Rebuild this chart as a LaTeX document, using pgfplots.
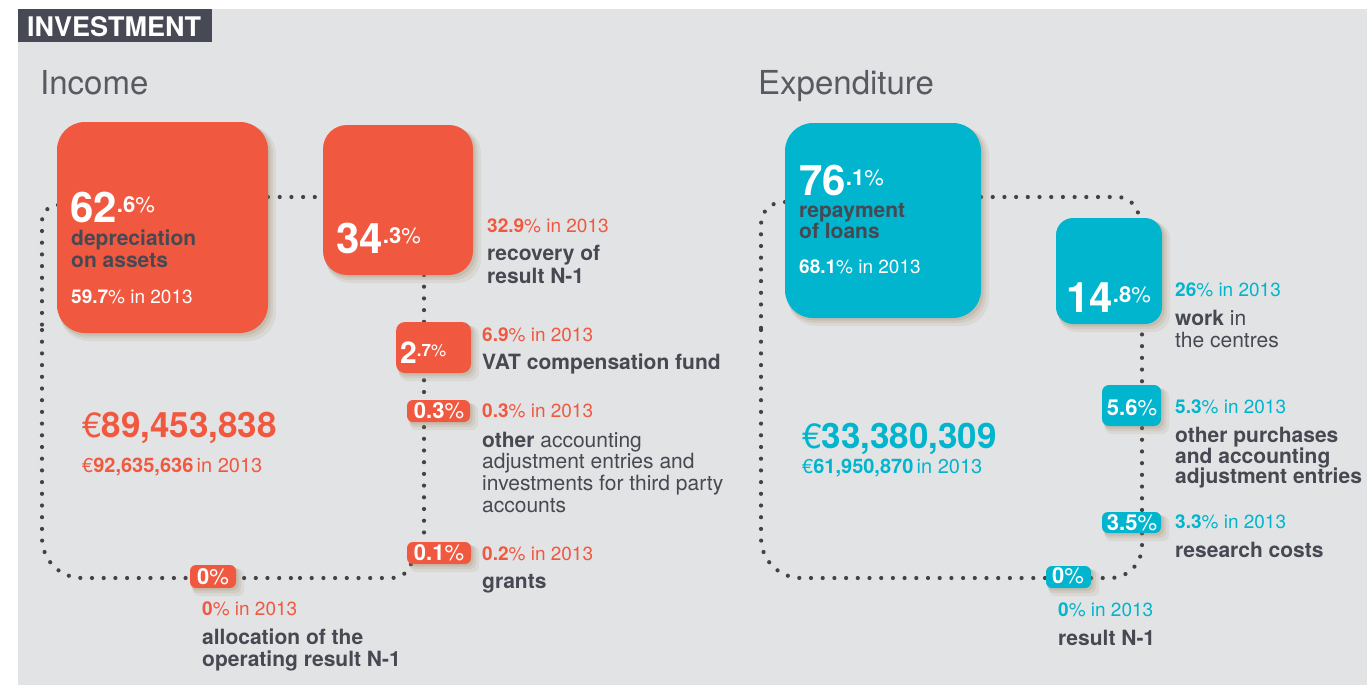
\documentclass[border=0pt]{standalone}
\usepackage{pgfplots}
\pgfplotsset{compat=1.18}
\usepackage{fontspec}
\setmainfont{TeX Gyre Heros}
\definecolor{bg}{RGB}{226,227,228}
\definecolor{tabc}{RGB}{71,74,84}
\definecolor{org}{RGB}{240,89,64}
\definecolor{tealc}{RGB}{0,181,205}
\definecolor{txt}{RGB}{70,72,82}
\definecolor{txtl}{RGB}{88,90,98}
\definecolor{dotc}{RGB}{70,66,66}
\definecolor{shad}{RGB}{150,128,90}
\newcommand{\fs}[1]{\fontsize{#1}{#1}\selectfont}
\newcommand{\T}[4]{\node[anchor=base west, inner sep=0pt, text=#3] at (axis cs:#1,#2) {#4};}
\newcommand{\C}[4]{\node[anchor=base, inner sep=0pt, text=#3] at (axis cs:#1,#2) {#4};}
\newcommand{\bignum}[3][42]{{\fs{#1}\bfseries #2}\raisebox{9.5pt}{\fs{22}{\bfseries .#3}\%}}
\newcommand{\rbox}[6]{%
\pgfmathsetmacro\xm{(#1+#3)/2}%
\pgfmathsetmacro\ax{#1+3}\pgfmathsetmacro\ay{#2+4}\pgfmathsetmacro\bx{#3+8}\pgfmathsetmacro\by{#4+8}%
\addplot[draw=none, fill=shad, fill opacity=0.10, rounded corners=#5pt] coordinates {(\xm,\ay) (\bx,\ay) (\bx,\by) (\ax,\by) (\ax,\ay)} -- cycle;
\pgfmathsetmacro\ax{#1+2}\pgfmathsetmacro\ay{#2+3}\pgfmathsetmacro\bx{#3+5}\pgfmathsetmacro\by{#4+5}%
\addplot[draw=none, fill=shad, fill opacity=0.14, rounded corners=#5pt] coordinates {(\xm,\ay) (\bx,\ay) (\bx,\by) (\ax,\by) (\ax,\ay)} -- cycle;
\pgfmathsetmacro\ax{#1+1}\pgfmathsetmacro\ay{#2+2}\pgfmathsetmacro\bx{#3+2.5}\pgfmathsetmacro\by{#4+2.5}%
\addplot[draw=none, fill=shad, fill opacity=0.18, rounded corners=#5pt] coordinates {(\xm,\ay) (\bx,\ay) (\bx,\by) (\ax,\by) (\ax,\ay)} -- cycle;
\addplot[draw=none, fill=#6, rounded corners=#5pt] coordinates {(\xm,#2) (#3,#2) (#3,#4) (#1,#4) (#1,#2)} -- cycle;
}
\pgfplotsset{dotl/.style={draw=dotc, line width=4.2pt, line cap=round, dash pattern=on 0pt off 11.7pt}}
\begin{document}
\begin{tikzpicture}
\begin{axis}[scale only axis, width=1367pt, height=685pt,
  xmin=0, xmax=1367, ymin=0, ymax=685, y dir=reverse, hide axis]
% page and background
\addplot[draw=none, fill=white] coordinates {(0,0) (1367,0) (1367,685) (0,685)} -- cycle;
\addplot[draw=none, fill=bg] coordinates {(18,9) (1367,9) (1367,685) (18,685)} -- cycle;
\addplot[draw=none, fill=tabc] coordinates {(18,9) (212,9) (212,42) (18,42)} -- cycle;
% dotted connectors, income
\addplot[dotl, rounded corners=16pt] coordinates {(58,205) (42,205) (42,330)};
\addplot[dotl, rounded corners=40pt] coordinates {(42,330) (42,578) (300,578)};
\addplot[dotl, rounded corners=20pt] coordinates {(300,578) (412,578) (412,556)};
\addplot[dotl] coordinates {(268,197) (323,197)};
\addplot[dotl] coordinates {(424,275) (424,542)};
% dotted connectors, expenditure
\addplot[dotl, rounded corners=22pt] coordinates {(785,202) (761,202) (761,330)};
\addplot[dotl, rounded corners=40pt] coordinates {(761,330) (761,578) (1046,578)};
\addplot[dotl, rounded corners=32pt] coordinates {(1091,578) (1142,578) (1142,324)};
\addplot[dotl, rounded corners=22pt] coordinates {(981,197) (1139,197) (1139,220)};
% boxes, income
\rbox{57}{122}{268}{333}{28}{org}
\rbox{323}{125}{473}{275}{24}{org}
\rbox{396}{322}{471}{373}{9}{org}
\rbox{407}{400}{470}{422}{6}{org}
\rbox{407}{542}{471}{564}{6}{org}
\rbox{190}{565}{236}{588}{6}{org}
% boxes, expenditure
\rbox{785}{123}{981}{318}{28}{tealc}
\rbox{1056}{218}{1162}{324}{17}{tealc}
\rbox{1102}{385}{1161}{426}{7}{tealc}
\rbox{1102}{512}{1161}{533}{6}{tealc}
\rbox{1046}{566}{1091}{588}{6}{tealc}
% titles
\T{27}{37}{white}{\fs{27}\bfseries INVESTMENT}
\T{40}{94}{txtl}{\fs{33}Income}
\T{758}{94}{txtl}{\fs{33}Expenditure}
% income texts
\T{70}{222}{white}{\bignum{62}{6}}
\T{71}{245}{txt}{\fs{21}\bfseries depreciation}
\T{71}{267}{txt}{\fs{21}\bfseries on assets}
\T{71}{303}{white}{\fs{19}{\bfseries 59.7}\% in 2013}
\T{336}{253}{white}{\bignum{34}{3}}
\T{487}{232}{org}{\fs{19}{\bfseries 32.9}\% in 2013}
\T{487}{260}{txt}{\fs{21}\bfseries recovery of}
\T{487}{283}{txt}{\fs{21}\bfseries result N-1}
\T{400}{363}{white}{{\fs{30}\bfseries 2}\raisebox{7pt}{\fs{17}{\bfseries .7}\%}}
\T{482}{341}{org}{\fs{19}{\bfseries 6.9}\% in 2013}
\T{482}{369}{txt}{\fs{21}\bfseries VAT compensation fund}
\C{439}{418}{white}{\fs{22}{\bfseries 0.3}\%}
\T{482}{417}{org}{\fs{19}{\bfseries 0.3}\% in 2013}
\T{482}{447}{txt}{\fs{21}{\bfseries other} accounting}
\T{482}{468}{txt}{\fs{21}adjustment entries and}
\T{482}{490}{txt}{\fs{21}investments for third party}
\T{482}{512}{txt}{\fs{21}accounts}
\C{439}{560}{white}{\fs{22}{\bfseries 0.1}\%}
\T{482}{560}{org}{\fs{19}{\bfseries 0.2}\% in 2013}
\T{482}{588}{txt}{\fs{21}\bfseries grants}
\C{213}{584}{white}{\fs{22}{\bfseries 0}\%}
\T{202}{615}{org}{\fs{19}{\bfseries 0}\% in 2013}
\T{202}{644}{txt}{\fs{21}\bfseries allocation of the}
\T{202}{666}{txt}{\fs{21}\bfseries operating result N-1}
\T{82}{437}{org}{\fs{35}€{\bfseries 89,453,838}}
\T{82}{472}{org}{\fs{20}€{\bfseries 92,635,636}\,in 2013}
% expenditure texts
\T{799}{195}{white}{\bignum{76}{1}}
\T{799}{217}{txt}{\fs{21}\bfseries repayment}
\T{799}{238}{txt}{\fs{21}\bfseries of loans}
\T{799}{273}{white}{\fs{19}{\bfseries 68.1}\% in 2013}
\T{1066}{312}{white}{\bignum{14}{8}}
\T{1175}{296}{tealc}{\fs{19}{\bfseries 26}\% in 2013}
\T{1175}{325}{txt}{\fs{21}{\bfseries work} in}
\T{1175}{347}{txt}{\fs{21}the centres}
\C{1132}{415}{white}{\fs{22}{\bfseries 5.6}\%}
\T{1175}{413}{tealc}{\fs{19}{\bfseries 5.3}\% in 2013}
\T{1175}{442}{txt}{\fs{21}\bfseries other purchases}
\T{1175}{463}{txt}{\fs{21}\bfseries and accounting}
\T{1175}{483}{txt}{\fs{21}\bfseries adjustment entries}
\C{1132}{530}{white}{\fs{22}{\bfseries 3.5}\%}
\T{1175}{528}{tealc}{\fs{19}{\bfseries 3.3}\% in 2013}
\T{1175}{557}{txt}{\fs{21}\bfseries research costs}
\C{1068}{583}{white}{\fs{22}{\bfseries 0}\%}
\T{1058}{616}{tealc}{\fs{19}{\bfseries 0}\% in 2013}
\T{1058}{645}{txt}{\fs{21}\bfseries result N-1}
\T{802}{448}{tealc}{\fs{35}€{\bfseries 33,380,309}}
\T{802}{473}{tealc}{\fs{20}€{\bfseries 61,950,870}\,in 2013}
\end{axis}
\end{tikzpicture}
\end{document}
